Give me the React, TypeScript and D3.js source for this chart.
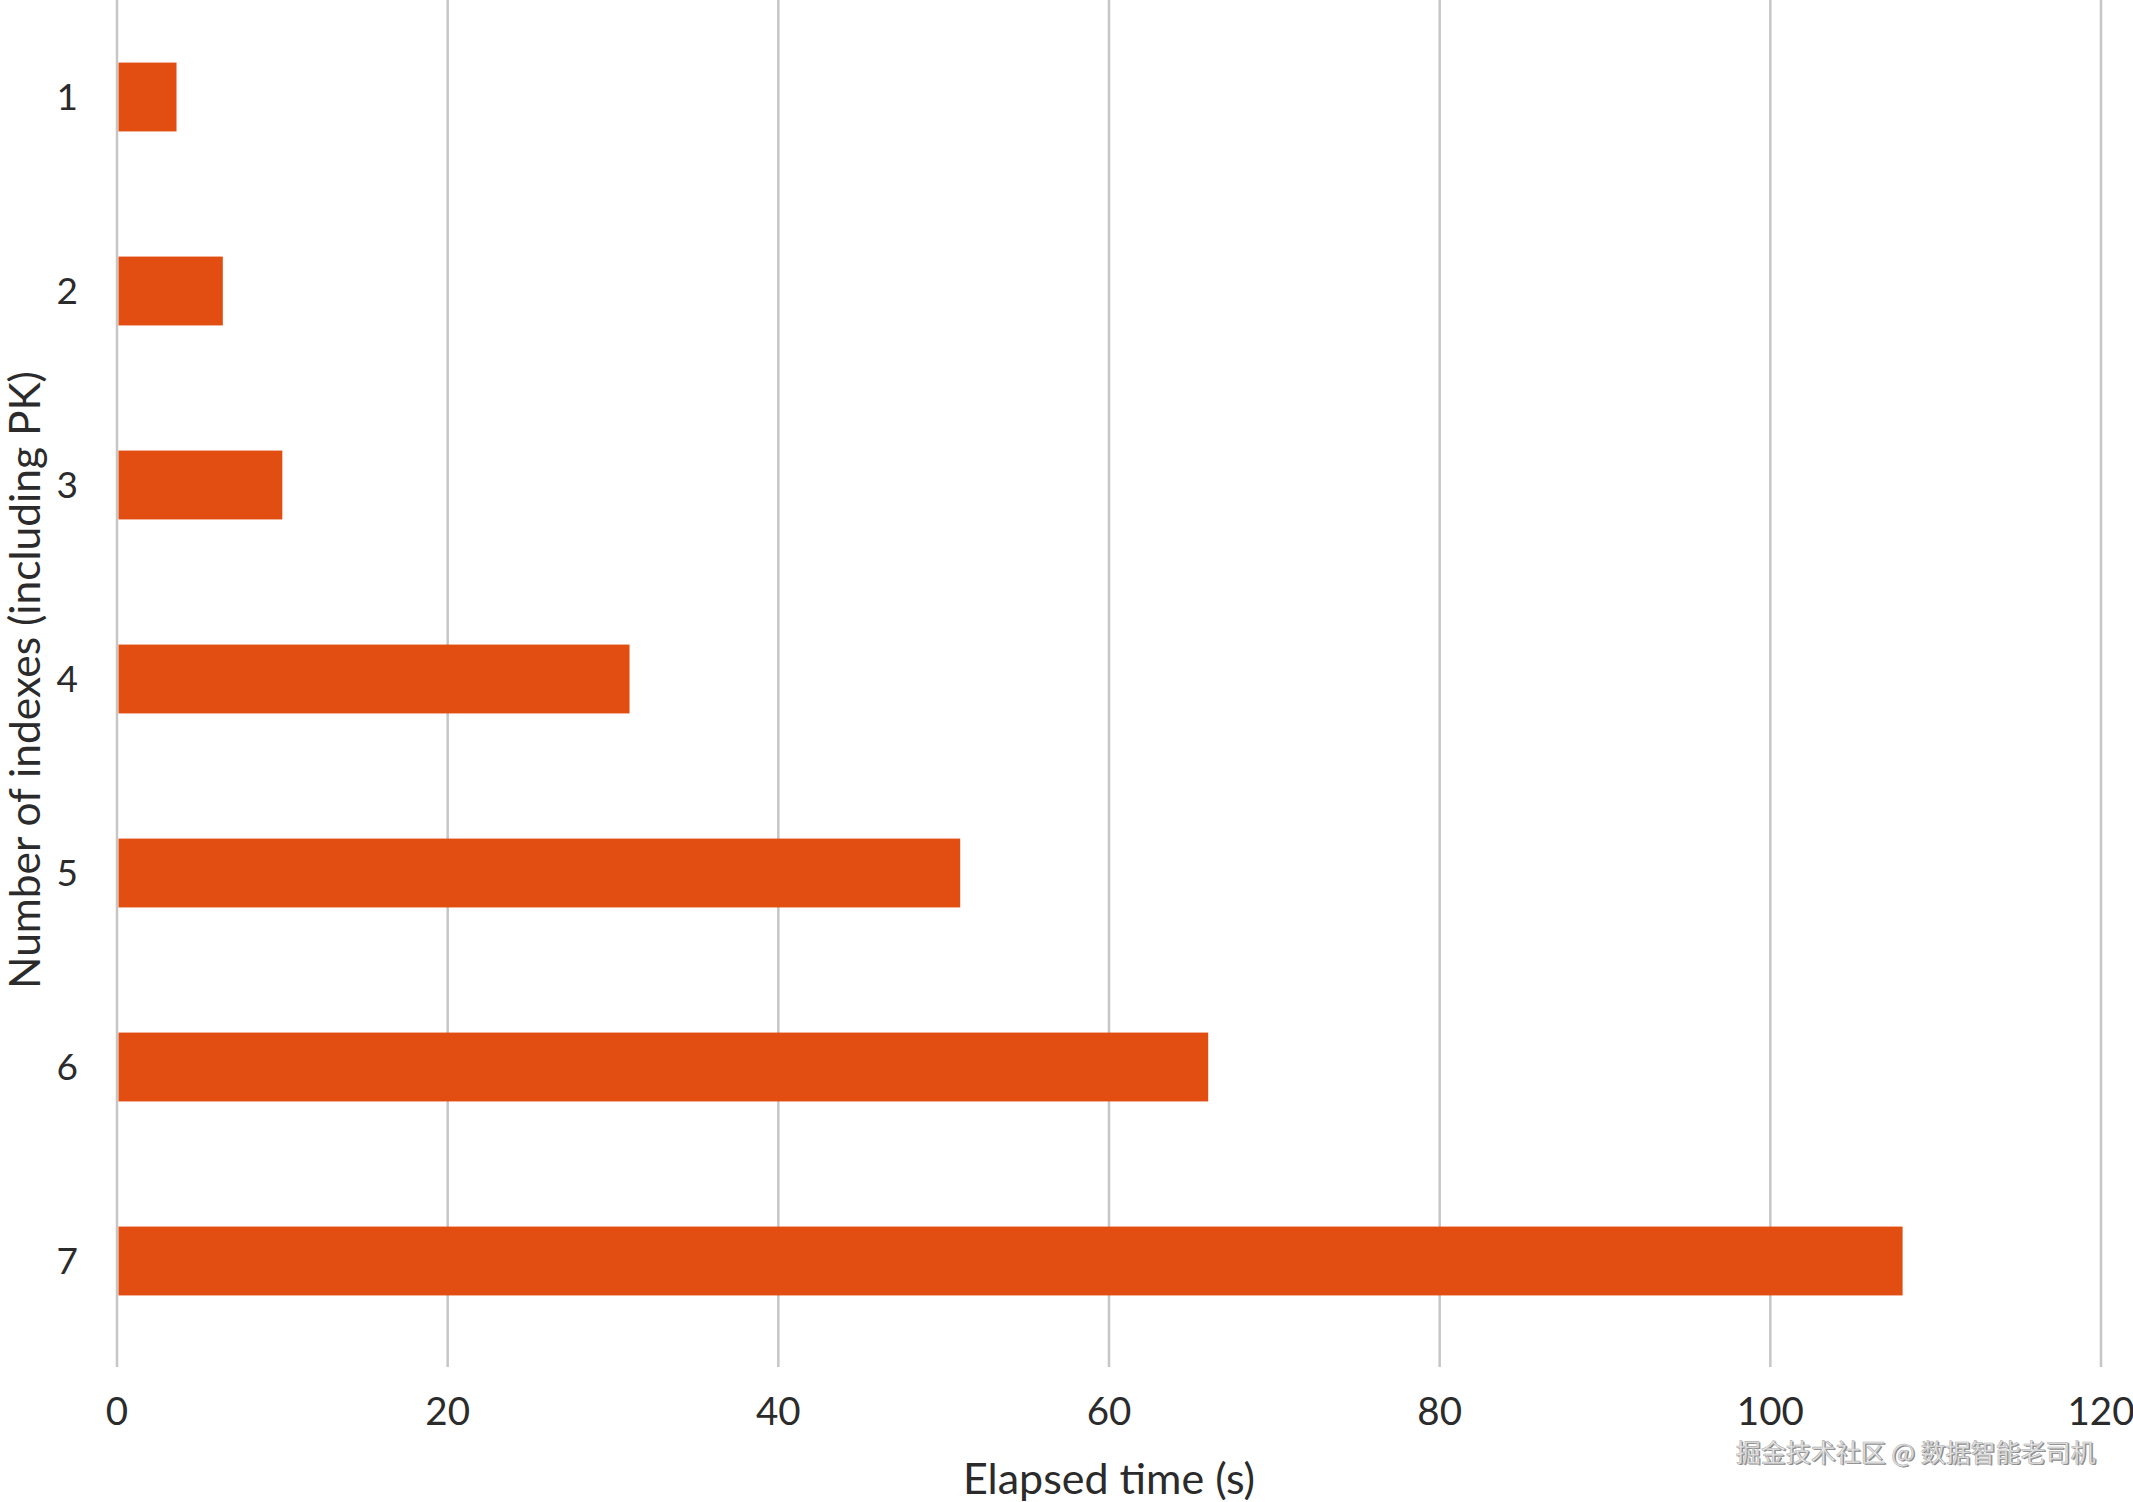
import React, { useEffect, useRef } from 'react'
import * as d3 from 'd3'

// number of indexes vs elapsed insert time
const categories = ['1', '2', '3', '4', '5', '6', '7']
const elapsed = [3.6, 6.4, 10, 31, 51, 66, 108]
const xTicks = [0, 20, 40, 60, 80, 100, 120]

const xTitle = 'Elapsed time (s)'
const yTitle = 'Number of indexes (including PK)'
const watermark = '掘金技术社区 @ 数据智能老司机'

export default function App() {
    const ref = useRef<SVGSVGElement>(null)

    useEffect(() => {
        const W = 2133
        const H = 1502
        const margin = { left: 117, right: 32, top: 0 }
        const plotBottom = 1358
        const font = 'Lato, "Open Sans", sans-serif'
        const textColor = '#2b2b2b'

        const svg = d3.select(ref.current).attr('width', W).attr('height', H)
        svg.selectAll('*').remove()

        const x = d3.scaleLinear().domain([0, 120]).range([margin.left, W - margin.right])
        const y = d3.scaleBand().domain(categories).range([margin.top, plotBottom]).paddingInner(0.645).paddingOuter(0.3225)

        // gridlines
        svg.append('g').selectAll('line').data(xTicks).join('line')
            .attr('x1', d => x(d)).attr('x2', d => x(d))
            .attr('y1', 0).attr('y2', 1367)
            .attr('stroke', '#c6c6c6').attr('stroke-width', 2.5)

        // bars
        svg.append('g').selectAll('rect').data(elapsed).join('rect')
            .attr('x', x(0) + 1.5)
            .attr('y', (d, i) => y(categories[i])!)
            .attr('width', d => x(d) - x(0) - 1.5)
            .attr('height', y.bandwidth())
            .attr('fill', '#e24e11')

        // x tick labels
        svg.append('g').selectAll('text').data(xTicks).join('text')
            .attr('x', d => x(d)).attr('y', 1425)
            .attr('text-anchor', 'middle')
            .attr('font-family', font).attr('font-size', 38.5).attr('fill', textColor)
            .text(d => d)

        // y tick labels
        svg.append('g').selectAll('text').data(categories).join('text')
            .attr('x', 78).attr('y', d => y(d)! + y.bandwidth() / 2)
            .attr('dy', '0.36em')
            .attr('text-anchor', 'end')
            .attr('font-family', font).attr('font-size', 37).attr('fill', textColor)
            .text(d => d)

        // axis titles
        svg.append('text')
            .attr('x', (x(0) + x(120)) / 2).attr('y', 1494)
            .attr('text-anchor', 'middle')
            .attr('font-family', font).attr('font-size', 43).attr('fill', textColor)
            .text(xTitle)

        svg.append('text')
            .attr('transform', `translate(40, ${plotBottom / 2 + 1}) rotate(-90)`)
            .attr('text-anchor', 'middle')
            .attr('font-family', font).attr('font-size', 42.5).attr('fill', textColor)
            .text(yTitle)

        // watermark, embossed look
        const wm = svg.append('g').attr('font-family', '"Noto Sans CJK SC", sans-serif').attr('font-size', 25).attr('text-anchor', 'end')
        wm.append('text').attr('x', 2097).attr('y', 1463).attr('fill', '#8a8a8a').text(watermark)
        wm.append('text').attr('x', 2095.5).attr('y', 1461.5).attr('fill', '#e9e9e9')
            .attr('stroke', '#b0b0b0').attr('stroke-width', 0.6).text(watermark)
    }, [])

    return (
        <div>
            <svg ref={ref} style={{ position: 'absolute', left: 0, top: 0, background: '#fff' }}></svg>
        </div>
    )
}
